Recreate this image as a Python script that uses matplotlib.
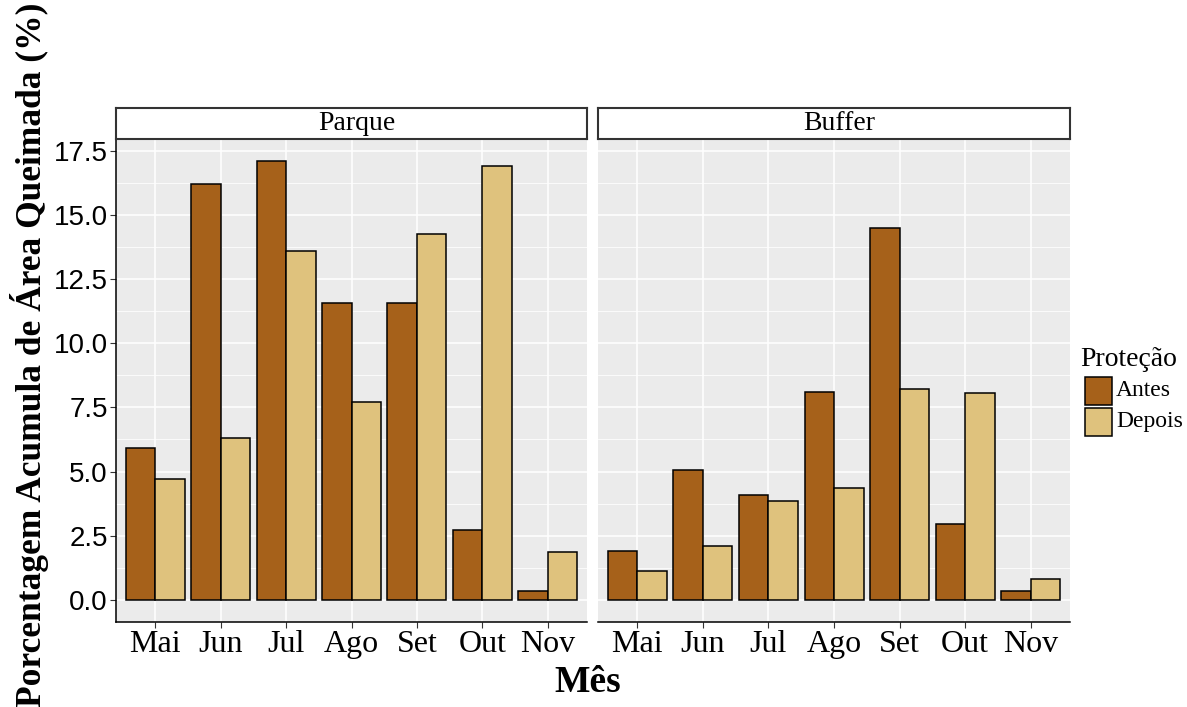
import matplotlib
matplotlib.use("Agg")
import matplotlib.pyplot as plt
from matplotlib.patches import Rectangle
from matplotlib.ticker import MultipleLocator
import numpy as np

months = ["Mai", "Jun", "Jul", "Ago", "Set", "Out", "Nov"]
panels = ["Parque", "Buffer"]
groups = ["Antes", "Depois"]
parque_antes = [5.92, 16.20, 17.11, 11.56, 11.59, 2.71, 0.36]
parque_depois = [4.70, 6.32, 13.60, 7.73, 14.28, 16.91, 1.85]
buffer_antes = [1.92, 5.06, 4.10, 8.09, 14.48, 2.96, 0.33]
buffer_depois = [1.12, 2.10, 3.85, 4.35, 8.22, 8.05, 0.79]
yticks = [0.0, 2.5, 5.0, 7.5, 10.0, 12.5, 15.0, 17.5]

colors = {"Antes": "#A6611A", "Depois": "#DFC27D"}
SERIF = "Liberation Serif"
SANS = "Liberation Sans"

W, H = 1187, 707
fig = plt.figure(figsize=(W / 100, H / 100), dpi=100)

def fx(px):
    return px / W

def fy(py):
    return 1 - py / H

panel_top, panel_bot = 139, 621.7
strip_top = 108.3
lefts = [116, 598]
rights = [587, 1070]
data = {"Parque": (parque_antes, parque_depois), "Buffer": (buffer_antes, buffer_depois)}

x = np.arange(len(months))
bw = 0.45
ymax = max(max(parque_antes), max(parque_depois), max(buffer_antes), max(buffer_depois))
pad = 0.05 * ymax

for i, name in enumerate(panels):
    l, r = lefts[i], rights[i]
    ax = fig.add_axes([fx(l), fy(panel_bot), fx(r - l), (panel_bot - panel_top) / H])
    ax.set_facecolor("#EBEBEB")
    ant, dep = data[name]
    ax.bar(x - bw / 2, ant, width=bw, color=colors["Antes"], edgecolor="black", linewidth=1.1, zorder=3)
    ax.bar(x + bw / 2, dep, width=bw, color=colors["Depois"], edgecolor="black", linewidth=1.1, zorder=3)
    ax.set_xlim(-0.6, len(months) - 0.4)
    ax.set_ylim(-pad, ymax + pad)
    ax.set_yticks(yticks)
    ax.yaxis.set_minor_locator(MultipleLocator(1.25))
    ax.set_xticks(x)
    ax.set_xticklabels(months, fontfamily=SERIF, fontsize=23)
    ax.grid(which="major", color="white", linewidth=1.1, zorder=0)
    ax.grid(which="minor", axis="y", color="white", linewidth=0.55, zorder=0)
    ax.set_axisbelow(True)
    for s in ["top", "right"]:
        ax.spines[s].set_visible(False)
    ax.spines["bottom"].set_color("black")
    ax.spines["bottom"].set_linewidth(1.1)
    ax.tick_params(axis="x", length=4, width=0.8, color="#333333", pad=2)
    ax.tick_params(axis="y", which="minor", length=0)
    if i == 0:
        ax.spines["left"].set_color("black")
        ax.spines["left"].set_linewidth(1.1)
        ax.set_yticklabels([f"{v:.1f}" for v in yticks], fontfamily=SANS, fontsize=20)
        ax.tick_params(axis="y", length=4, width=0.8, color="#333333", pad=2)
    else:
        ax.spines["left"].set_visible(False)
        ax.tick_params(axis="y", which="both", length=0, labelleft=False)
    # strip
    sax = fig.add_axes([fx(l), fy(panel_top), fx(r - l), (panel_top - strip_top) / H])
    sax.set_xticks([])
    sax.set_yticks([])
    sax.set_facecolor("white")
    for s in sax.spines.values():
        s.set_color("#333333")
        s.set_linewidth(1.5)
    sax.text(fx((l + r) / 2 + 5), fy(124), name, ha="center", va="center", fontfamily=SERIF,
             fontsize=20, transform=fig.transFigure)

fig.text(fx(588), fy(683), "Mês", ha="center", va="center", fontfamily=SERIF,
         fontweight="bold", fontsize=27)
fig.text(fx(30), fy(355), "Porcentagem Acumula de Área Queimada (%)", rotation=90,
         ha="center", va="center", fontfamily=SERIF, fontweight="bold", fontsize=25.5)

# legend (drawn manually in figure pixels)
fig.text(fx(1080), fy(360), "Proteção", ha="left", va="center", fontfamily=SERIF, fontsize=20)
key_x0, key_w, key_h, key_step, key_y0 = 1085, 27, 28, 31, 377
for j, g in enumerate(groups):
    ytop = key_y0 + j * key_step
    fig.patches.append(Rectangle((fx(key_x0), fy(ytop + key_h)), fx(key_w), key_h / H,
                                 transform=fig.transFigure, facecolor=colors[g],
                                 edgecolor="black", linewidth=1.1))
    fig.text(fx(key_x0 + key_w + 4), fy(ytop + key_h / 2), g, ha="left", va="center",
             fontfamily=SERIF, fontsize=17)

fig.savefig("out.png", dpi=100)
